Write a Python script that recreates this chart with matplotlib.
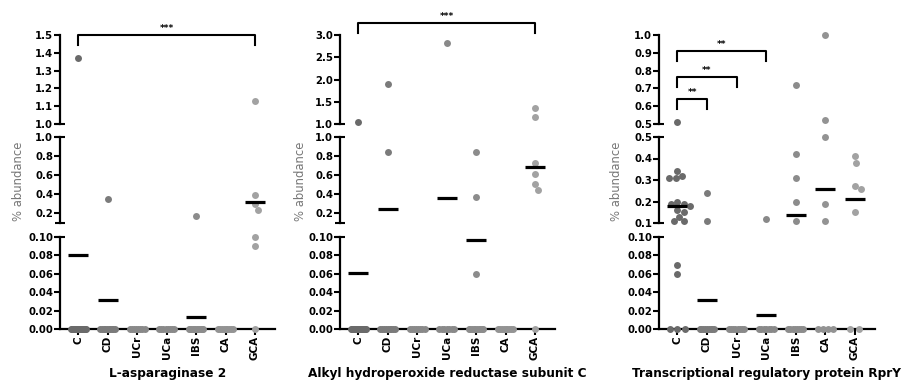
#!/usr/bin/env python

import numpy as np
import matplotlib
matplotlib.use('Agg')
import matplotlib.pyplot as plt
from matplotlib.transforms import blended_transform_factory

plt.rcParams['font.family'] = ['DejaVu Sans']

categories = ['C', 'CD', 'UCr', 'UCa', 'IBS', 'CA', 'GCA']
titles = ['L-asparaginase 2', 'Alkyl hydroperoxide reductase subunit C',
          'Transcriptional regulatory protein RprY']

# % abundance per sample (zeros included)
asparaginase = {
    'C': [1.37, 0, 0, 0, 0, 0, 0, 0, 0, 0, 0, 0, 0, 0, 0, 0, 0],
    'CD': [0.35, 0, 0, 0, 0, 0, 0, 0, 0, 0, 0],
    'UCr': [0, 0, 0, 0, 0, 0, 0, 0],
    'UCa': [0, 0, 0, 0, 0, 0, 0, 0],
    'IBS': [0.17, 0, 0, 0, 0, 0, 0, 0, 0, 0, 0, 0, 0],
    'CA': [0, 0, 0, 0, 0, 0, 0, 0, 0],
    'GCA': [1.13, 0.39, 0.30, 0.24, 0.10, 0.09, 0],
}
alkyl = {
    'C': [1.04, 0, 0, 0, 0, 0, 0, 0, 0, 0, 0, 0, 0, 0, 0, 0, 0],
    'CD': [1.90, 0.84, 0, 0, 0, 0, 0, 0, 0, 0, 0],
    'UCr': [0, 0, 0, 0, 0, 0, 0, 0],
    'UCa': [2.83, 0, 0, 0, 0, 0, 0, 0],
    'IBS': [0.84, 0.37, 0.06, 0, 0, 0, 0, 0, 0, 0, 0, 0, 0],
    'CA': [0, 0, 0, 0, 0, 0, 0, 0, 0],
    'GCA': [1.35, 1.15, 0.73, 0.61, 0.51, 0.45, 0],
}
rpry = {
    'C': [0.51, 0.34, 0.32, 0.31, 0.31, 0.20, 0.19, 0.19, 0.18, 0.16, 0.15,
          0.13, 0.11, 0.11, 0.07, 0.06, 0, 0, 0],
    'CD': [0.24, 0.11, 0, 0, 0, 0, 0, 0, 0, 0, 0],
    'UCr': [0, 0, 0, 0, 0, 0, 0, 0],
    'UCa': [0.12, 0, 0, 0, 0, 0, 0, 0],
    'IBS': [0.72, 0.42, 0.31, 0.20, 0.11, 0, 0, 0, 0, 0, 0, 0, 0],
    'CA': [1.00, 0.52, 0.50, 0.19, 0.11, 0, 0, 0, 0],
    'GCA': [0.41, 0.38, 0.27, 0.26, 0.15, 0, 0],
}

# group means drawn as black bars (None = no bar)
asparaginase_means = [0.080, 0.032, None, None, 0.013, None, 0.32]
alkyl_means = [0.061, 0.25, None, 0.36, 0.097, None, 0.69]
rpry_means = [0.18, 0.032, None, 0.015, 0.135, 0.26, 0.21]

# axis segments (low, high) for the broken y axes
asparaginase_top, asparaginase_mid = (1.0, 1.5), (0.1, 1.0)
alkyl_top, alkyl_mid = (1.0, 3.0), (0.1, 1.0)
rpry_top, rpry_mid = (0.5, 1.0), (0.1, 0.5)
asparaginase_top_ticks = [1.0, 1.1, 1.2, 1.3, 1.4, 1.5]
asparaginase_mid_ticks = [0.2, 0.4, 0.6, 0.8, 1.0]
alkyl_top_ticks = [1.0, 1.5, 2.0, 2.5, 3.0]
alkyl_mid_ticks = [0.2, 0.4, 0.6, 0.8, 1.0]
rpry_top_ticks = [0.5, 0.6, 0.7, 0.8, 0.9, 1.0]
rpry_mid_ticks = [0.1, 0.2, 0.3, 0.4, 0.5]
low_ticks = [0.00, 0.02, 0.04, 0.06, 0.08, 0.10]

# significance brackets: (from, to, level, stars)
asparaginase_sig = [(0, 6, 1.5, '***')]
alkyl_sig = [(0, 6, 3.27, '***')]
rpry_sig = [(0, 1, 0.64, '**'), (0, 2, 0.764, '**'), (0, 3, 0.91, '**')]

colors = ['#6a6a6a', '#7b7b7b', '#898989', '#898989', '#8c8c8c', '#939393', '#a2a2a2']

W, H = 909, 385
fig = plt.figure(figsize=(W / 100, H / 100), dpi=100)


def box(x0, x1, ytop, ybot):
    return [x0 / W, 1 - ybot / H, (x1 - x0) / W, (ybot - ytop) / H]


def style_axis(ax, lo, hi, ticks, fmt, bottom=False):
    ax.set_ylim(lo, hi)
    ax.set_xlim(-0.62, 6.68)
    for s in ['top', 'right']:
        ax.spines[s].set_visible(False)
    ax.spines['left'].set_linewidth(1.6)
    ax.set_yticks(ticks)
    ax.set_yticklabels([fmt % t for t in ticks])
    ax.tick_params(axis='y', length=4, width=1.5, labelsize=7.3, pad=1)
    for lab in ax.get_yticklabels():
        lab.set_fontweight('bold')
    ax.patch.set_alpha(0)
    if bottom:
        ax.spines['bottom'].set_linewidth(1.6)
        ax.set_xticks(range(len(categories)))
        ax.set_xticklabels(categories, rotation=90, fontweight='bold', fontsize=7.5)
        ax.tick_params(axis='x', length=4, width=1.5, pad=1)
    else:
        ax.spines['bottom'].set_visible(False)
        ax.set_xticks([])


def cap(ax, y):
    tr = blended_transform_factory(ax.transAxes, ax.transData)
    ax.plot([-0.022, 0.022], [y, y], color='black', lw=1.5, transform=tr,
            clip_on=False, solid_capstyle='butt', zorder=5)


def swarm_offsets(ypix, diam, sp):
    placed = []
    out = []
    cands = [0]
    for k in range(1, 60):
        cands += [k * 0.5, -k * 0.5]
    for y in ypix:
        for dx in cands:
            if all((dx - px) ** 2 + (y - py) ** 2 >= (diam * 0.95) ** 2 for px, py in placed):
                break
        placed.append((dx, y))
        out.append(dx / sp)
    return out


panels = [
    (asparaginase, asparaginase_means, asparaginase_top, asparaginase_mid,
     asparaginase_top_ticks, asparaginase_mid_ticks, asparaginase_sig, 60, 275, 19),
    (alkyl, alkyl_means, alkyl_top, alkyl_mid,
     alkyl_top_ticks, alkyl_mid_ticks, alkyl_sig, 340, 555, 300),
    (rpry, rpry_means, rpry_top, rpry_mid,
     rpry_top_ticks, rpry_mid_ticks, rpry_sig, 659, 875, 617),
]

for p, (data, means, top, mid, top_ticks, mid_ticks, sig, x0, x1, lx) in enumerate(panels):
    ax_top = fig.add_axes(box(x0, x1, 35, 124))
    ax_mid = fig.add_axes(box(x0, x1, 137, 223))
    ax_low = fig.add_axes(box(x0, x1, 237, 329))
    style_axis(ax_top, top[0], top[1], top_ticks, '%.1f')
    style_axis(ax_mid, mid[0], mid[1], mid_ticks, '%.1f')
    style_axis(ax_low, 0, 0.1, low_ticks, '%.2f', bottom=True)
    cap(ax_top, top[0])
    cap(ax_mid, mid[1])
    cap(ax_mid, mid[0])
    cap(ax_low, 0.1)

    def seg(v):
        if v <= 0.1:
            return ax_low
        if v <= mid[1]:
            return ax_mid
        return ax_top

    sp = (x1 - x0) / 7.30
    for i, cat in enumerate(categories):
        vals = data[cat]
        zeros = [v for v in vals if v == 0]
        others = [v for v in vals if v != 0]
        n = len(zeros)
        if n:
            w = min(0.3 * (n - 1) / 2, 0.25)
            xs = np.linspace(-w, w, n) + i
            ax_low.scatter(xs, zeros, s=25, color=colors[i], lw=0, zorder=6, clip_on=False)
        if others:
            ypix = [seg(v).transData.transform((i, v))[1] for v in others]
            offs = swarm_offsets(ypix, 6.9, sp)
            for v, o in zip(others, offs):
                seg(v).scatter([i + o], [v], s=25, color=colors[i], lw=0, zorder=6,
                               clip_on=False)
        m = means[i]
        if m is not None:
            seg(m).plot([i - 0.34, i + 0.34], [m, m], color='black', lw=2.3,
                        solid_capstyle='butt', zorder=7, clip_on=False)

    # significance brackets
    rng = top[1] - top[0]
    leg = 10 / 89 * rng
    for a, b, lvl, stars in sig:
        ax_top.plot([a, a, b, b], [lvl - leg, lvl, lvl, lvl - leg], color='black',
                    lw=1.5, clip_on=False, zorder=8)
        ax_top.text((a + b) / 2, lvl + 2 / 89 * rng, stars, ha='center', va='bottom',
                    fontsize=6.5, fontweight='bold', clip_on=False)

    fig.text((x0 + x1) / 2 / W, 1 - 374 / H, titles[p], ha='center', va='center',
             fontsize=8.7, fontweight='bold')
    fig.text(lx / W, 1 - 181 / H, '% abundance', rotation=90, ha='center', va='center',
             fontsize=8.4, color='#777777')

fig.savefig('out.png', dpi=100)
